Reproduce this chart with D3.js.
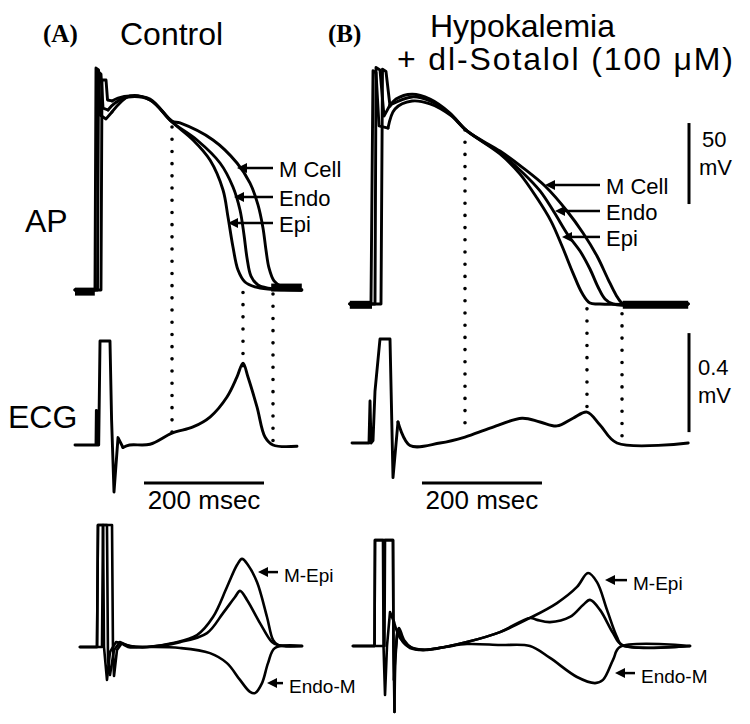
<!DOCTYPE html>
<html>
<head>
<meta charset="utf-8">
<script src="https://cdn.jsdelivr.net/npm/d3@7"></script>
<style>
  body { margin: 0; background: #fff; }
  svg { display: block; }
  text { font-family: 'Liberation Sans', Arial, sans-serif; fill: #000; }
</style>
</head>
<body>
<svg id="chart"></svg>
<script>
// ---- data: time in ms (0 = stimulus), AP in mV, ECG in mV ----
const apEpiA  = [[-35,-85],[-1.7,-85],[0,52],[4.2,50.8],[6.7,23],[16.7,20.6],[26.7,24.9],[56.7,34.8],[90,32.3],[126.7,18.7],[161.7,7.6],[190,-4.8],[211.7,-23.3],[220,-40],[228.3,-58.5],[236.7,-72.7],[248.3,-80.1],[265,-83.1],[286.7,-84.4],[343,-85]];
const apEndoA = [[-35,-85],[2.5,-85],[4.2,49.6],[8.3,48.3],[11.7,27.3],[20,26.1],[31.7,30.4],[53.3,34.1],[90,32.3],[126.7,18.7],[168.3,7.6],[206.7,-6.6],[228.3,-21.4],[240,-35.6],[246.7,-51],[251.7,-65.2],[258.3,-76.4],[270,-81.9],[286.7,-83.8],[343,-85]];
const apMA    = [[-35,-85],[8.3,-85],[10,44.6],[16.7,44.6],[19.2,32.3],[26.7,31.7],[36.7,33.5],[56.7,34.8],[90,32.9],[126.7,19.3],[140,18.1],[195,7.6],[235,-6.6],[256.7,-19],[270,-32.5],[278.3,-46.7],[283.3,-60.3],[288.3,-71.4],[296.7,-79.4],[310,-83.1],[326.7,-84.4],[343,-85]];

const apEpiB  = [[-37,-85],[-1.7,-85],[1.7,59],[6.7,57.8],[11.7,24.9],[26.7,23.6],[38.3,35.4],[66.7,40.3],[96.7,38.5],[130,31.7],[158.3,21.8],[213.3,7.6],[246.7,-4.8],[275,-19.6],[298.3,-33.8],[316.7,-49.2],[335,-65.9],[350,-78.2],[363.3,-84.4],[380,-85],[527,-85]];
const apEndoB = [[-37,-85],[5,-85],[6.7,61],[13.3,59.5],[20,31],[30,37.8],[66.7,42.8],[96.7,40.3],[130,32.3],[158.3,21.8],[213.3,8.2],[251.7,-4.1],[280,-15.2],[303.3,-28.2],[326.7,-42.4],[346.7,-52.3],[363.3,-63.4],[376.7,-74.5],[388.3,-81.9],[401.7,-85],[527,-85]];
const apMB    = [[-37,-85],[15,-85],[17.5,60],[23.3,58.5],[30,37.2],[40,41.5],[66.7,44.5],[96.7,41.5],[130,32.9],[158.3,21.8],[213.3,9.4],[251.7,-1],[288.3,-12.2],[325,-27.6],[351.7,-41.2],[375,-55.4],[393.3,-69.6],[406.7,-79.4],[416.7,-84.4],[430,-85],[527,-85]];

// resting-potential stretches where the traces pile up: [t0, t1, mV]
const restA = [[-35,-2,-86],[292,343,-83.5]];
const restB = [[-37,0,-85.5],[418,527,-85.5]];

const ecgA = [[-35,0],[0,0],[0.6,0.14],[1.4,0],[4.5,0],[6.7,0.42],[23.3,0.42],[26,0.1],[30,-0.19],[36.7,0.03],[45,-0.01],[56,0],[90,0.003],[126.7,0.048],[161.7,0.073],[190,0.113],[218.3,0.194],[235,0.275],[245,0.331],[253.3,0.275],[268.3,0.154],[281.7,0.032],[295,0],[335,-0.005]];
const ecgB = [[-33.3,0],[-5,0],[-3.3,0.17],[-1.7,0],[1.7,0.01],[5,0.21],[13.3,0.42],[30,0.42],[35,-0.14],[43.3,0.085],[63.3,-0.01],[113.3,0],[155,0.024],[196.7,0.06],[250,0.1],[280,0.085],[308.3,0.069],[335,0.1],[358.3,0.125],[380,0.073],[408.3,0],[527,0]];

// transmural difference signals (mV)
const mEpiA   = [[-26.7,0],[1.7,0],[3.3,50],[11.7,50],[13.3,0],[18.3,-13.5],[23.3,-2],[33.3,2],[43.3,1.6],[56.7,0.4],[85,0],[128.3,1.6],[168.3,4.9],[195,12.3],[218.3,24.6],[235,33.6],[243.3,36.1],[253.3,33.6],[268.3,26.6],[285,12.3],[295,2.9],[303.3,0.8],[343.3,0.4]];
const endoEpiA= [[-26.7,0],[1.7,0],[3.3,50],[26.7,50],[28.3,-1.2],[30,-11.9],[35,-1.2],[43.3,1.6],[56.7,0.4],[85,0],[140,2],[185,5.7],[211.7,13.9],[231.7,20.5],[240,23],[251.7,19.3],[273.3,9.8],[293.3,2],[303.3,0.8],[343.3,0.4]];
const endoMA  = [[-26.7,0],[10,0],[11.7,50],[18.3,50],[20,-5.3],[23.3,-11.5],[30,-1.2],[40,2],[53.3,0],[85,0],[140,-0.4],[190,-2.5],[218.3,-6.6],[240,-13.5],[256.7,-18.4],[265,-18.9],[276.7,-14.8],[286.7,-6.6],[298.3,-0.4],[343.3,0.4]];

const mEpiB   = [[-31.7,0],[4.2,0],[5,43.4],[18.3,43.4],[19.2,0],[21.7,-20.1],[25,0],[30,13.9],[36.7,9.8],[46.7,3.3],[60,0],[85,-1.6],[121.7,-0.4],[158.3,1.6],[213.3,5.7],[263.3,11.5],[308.3,17.6],[341.7,24.2],[360,29.9],[375,26.2],[391.7,14.8],[408.3,3.7],[416.7,0.4],[530,0]];
const endoEpiB= [[-31.7,0],[4.2,0],[5,43.4],[35,43.4],[35.8,0],[36.7,-13.9],[40,0],[43.3,6.6],[51.7,1.6],[63.3,-0.8],[85,-1.6],[121.7,-0.4],[158.3,1.6],[213.3,5.7],[263.3,11.5],[275,10.7],[296.7,9.8],[330,11.9],[351.7,16.8],[363.3,18.9],[380,14.8],[401.7,5.3],[416.7,0.4],[530,0]];
const endoMB  = [[-31.7,0],[20.8,0],[21.7,43.4],[35,43.4],[35.8,0],[37.5,-27],[40,-1.6],[45,7.4],[53.3,2.5],[66.7,-0.8],[85,-1.6],[121.7,-0.4],[158.3,0.8],[213.3,0.4],[263.3,0],[296.7,-4.9],[341.7,-12.7],[371.7,-15.2],[385,-13.9],[401.7,-5.7],[413.3,-0.4],[530,0]];

// dotted time markers: [t, AP mV at top, ECG mV at bottom]
const markA = [[126.7,15.6,0.05],[245,-86.5,0.32],[295,-87.5,0.01]];
const markB = [[155,22.4,0.065],[358.3,-88,0.14],[416.7,-91,0.02]];

// labelled arrows: [label, tip t, tip value, tail t]
const apLabA  = [['M Cell',235,-9.7,295],['Endo',230,-27.6,295],['Epi',220,-43.6,295]];
const apLabB  = [['M Cell',288.3,-11.5,380],['Endo',305,-27.6,380],['Epi',316.7,-43.6,380]];
const difLabA = [['M-Epi',270,30.7,303.3],['Endo-M',285,-14.8,311.7]];
const difLabB = [['M-Epi',388.3,27,425],['Endo-M',405,-11.1,438.3]];

const timeBar = 200;   // ms
const apBar = 50;      // mV
const ecgBar = 0.4;    // mV

// ---- layout ----
const W = 750, H = 724;
const svg = d3.select('#chart').attr('width', W).attr('height', H);
svg.append('rect').attr('width', W).attr('height', H).attr('fill', '#fff');

const PX_MS = 0.6, PX_AP = 1.62, PX_ECG = 247.5, PX_DIF = 2.44;

function makePanel(x0, apBase, ecgBase, difBase) {
  return {
    x: d3.scaleLinear().domain([0, 100]).range([x0, x0 + 100 * PX_MS]),
    ap: d3.scaleLinear().domain([-85, 15]).range([apBase, apBase - 100 * PX_AP]),
    ecg: d3.scaleLinear().domain([0, 0.4]).range([ecgBase, ecgBase - 0.4 * PX_ECG]),
    dif: d3.scaleLinear().domain([0, 40]).range([difBase, difBase - 40 * PX_DIF])
  };
}
const pA = makePanel(96, 290, 445, 647);
const pB = makePanel(372, 304, 443, 646);

// stimulus/upstroke part is drawn with straight segments, the rest smoothed
function trace(g, data, xs, ys, w, cut) {
  const sharp = data.filter(d => d[0] <= cut);
  const smooth = data.slice(sharp.length - 1);
  const lin = d3.line().x(d => xs(d[0])).y(d => ys(d[1]));
  const cur = d3.line().x(d => xs(d[0])).y(d => ys(d[1]))
    .curve(d3.curveCatmullRom.alpha(0.5));
  [[sharp, lin], [smooth, cur]].forEach(([pts, gen]) => {
    g.append('path')
      .datum(pts)
      .attr('fill', 'none')
      .attr('stroke', '#000')
      .attr('stroke-width', w)
      .attr('stroke-linejoin', 'round')
      .attr('stroke-linecap', 'round')
      .attr('d', gen);
  });
}

function arrows(g, labs, xs, ys, fs, dy) {
  labs.forEach(([name, t, v, tail]) => {
    const tx = xs(t), ty = ys(v), ex = xs(tail);
    g.append('line')
      .attr('x1', tx + 6).attr('y1', ty).attr('x2', ex).attr('y2', ty)
      .attr('stroke', '#000').attr('stroke-width', 2.5);
    g.append('path')
      .attr('d', `M${tx},${ty}L${tx + 10},${ty - 5}L${tx + 10},${ty + 5}Z`)
      .attr('fill', '#000');
    g.append('text')
      .attr('x', ex + 6).attr('y', ty + dy)
      .attr('font-size', fs)
      .text(name);
  });
}

function panel(p, ap, rest, ecg, difs, marks, apLabs, difLabs, barT0, cuts) {
  const g = svg.append('g');
  // dotted markers
  marks.forEach(([t, v, e]) => {
    g.append('line')
      .attr('x1', p.x(t)).attr('x2', p.x(t))
      .attr('y1', p.ap(v)).attr('y2', p.ecg(e))
      .attr('stroke', '#000').attr('stroke-width', 3.6)
      .attr('stroke-linecap', 'round')
      .attr('stroke-dasharray', '0 12.2');
  });
  ap.forEach(d => trace(g, d, p.x, p.ap, 2.9, cuts[0]));
  rest.forEach(([t0, t1, v]) => {
    g.append('line')
      .attr('x1', p.x(t0)).attr('x2', p.x(t1))
      .attr('y1', p.ap(v)).attr('y2', p.ap(v))
      .attr('stroke', '#000').attr('stroke-width', 8);
  });
  trace(g, ecg, p.x, p.ecg, 2.9, cuts[1]);
  difs.forEach(d => trace(g, d, p.x, p.dif, 2.6, cuts[2]));
  arrows(g, apLabs, p.x, p.ap, 22, 9);
  arrows(g, difLabs, p.x, p.dif, 19, 10);
  // time scale bar
  g.append('line')
    .attr('x1', p.x(barT0)).attr('x2', p.x(barT0 + timeBar))
    .attr('y1', 483).attr('y2', 483)
    .attr('stroke', '#000').attr('stroke-width', 3);
  g.append('text')
    .attr('x', p.x(barT0 + timeBar / 2)).attr('y', 509)
    .attr('text-anchor', 'middle').attr('font-size', 26)
    .text(`${timeBar} msec`);
}

panel(pA, [apEpiA, apEndoA, apMA], restA, ecgA, [mEpiA, endoEpiA, endoMA], markA, apLabA, difLabA, 80, [27, 46, 44]);
panel(pB, [apEpiB, apEndoB, apMB], restB, ecgB, [mEpiB, endoEpiB, endoMB], markB, apLabB, difLabB, 83.3, [31, 44, 38]);

// vertical scale bars (panel B)
svg.append('line')
  .attr('x1', 689).attr('x2', 689)
  .attr('y1', pB.ap(-23.3)).attr('y2', pB.ap(-23.3 + apBar))
  .attr('stroke', '#000').attr('stroke-width', 3);
svg.append('text').attr('x', 702).attr('y', 147).attr('font-size', 22).text(apBar);
svg.append('text').attr('x', 699).attr('y', 175).attr('font-size', 22).text('mV');

svg.append('line')
  .attr('x1', 689).attr('x2', 689)
  .attr('y1', pB.ecg(0.044)).attr('y2', pB.ecg(0.044 + ecgBar))
  .attr('stroke', '#000').attr('stroke-width', 3);
svg.append('text').attr('x', 698).attr('y', 375).attr('font-size', 22).text(ecgBar);
svg.append('text').attr('x', 698).attr('y', 403).attr('font-size', 22).text('mV');

// titles and row labels
const serif = "'Liberation Serif', 'Times New Roman', serif";
svg.append('text').attr('x', 43).attr('y', 42).attr('font-size', 25)
  .attr('font-weight', 'bold').style('font-family', serif).text('(A)');
svg.append('text').attr('x', 120).attr('y', 45).attr('font-size', 32).text('Control');
svg.append('text').attr('x', 328).attr('y', 42).attr('font-size', 25)
  .attr('font-weight', 'bold').style('font-family', serif).text('(B)');
svg.append('text').attr('x', 430).attr('y', 37).attr('font-size', 32).text('Hypokalemia');
svg.append('text').attr('x', 397).attr('y', 70).attr('font-size', 32)
  .attr('textLength', 336).attr('lengthAdjust', 'spacing').text('+ dl-Sotalol (100 \u03BCM)');
svg.append('text').attr('x', 25).attr('y', 232).attr('font-size', 32).text('AP');
svg.append('text').attr('x', 8).attr('y', 428).attr('font-size', 32).text('ECG');
</script>
</body>
</html>
